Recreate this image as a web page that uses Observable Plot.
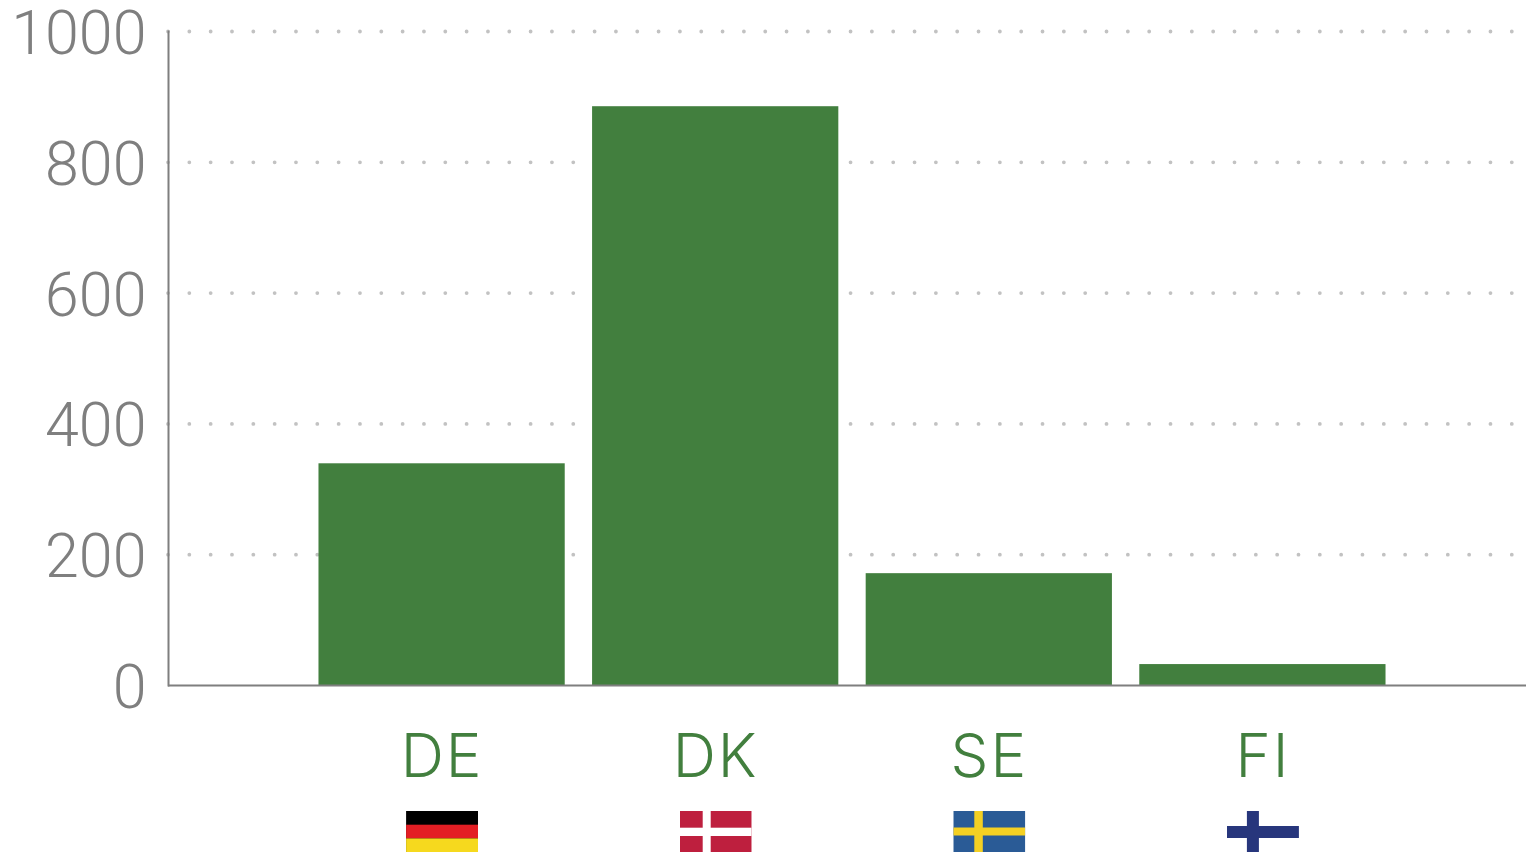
<!DOCTYPE html>
<html>
<head>
<meta charset="utf-8">
<style>html,body{margin:0;padding:0;background:#fff}svg{display:block}
g[aria-label="x-axis tick label"]{letter-spacing:2px}</style>
<script src="https://cdn.jsdelivr.net/npm/d3@7"></script>
<script src="https://cdn.jsdelivr.net/npm/@observablehq/plot@0.6"></script>
</head>
<body>
<div id="chart"></div>
<script>
const countries = ["DE", "DK", "SE", "FI"];
const values = [339, 885, 171, 32];
const yTicks = [0, 200, 400, 600, 800, 1000];
const gridTicks = [200, 400, 600, 800, 1000];

const flagSvgs = {
  DE: `<rect width="72" height="41" fill="#000"/><rect y="13.7" width="72" height="13.7" fill="#e31e24"/><rect y="27.4" width="72" height="13.6" fill="#f6d91e"/>`,
  DK: `<rect width="72" height="41" fill="#be1f3e"/><rect x="23" width="8" height="41" fill="#fff"/><rect y="16.7" width="72" height="8.3" fill="#fff"/>`,
  SE: `<rect width="72" height="41" fill="#2a5b96"/><rect x="21" width="8.5" height="41" fill="#f4d023"/><rect y="16.5" width="72" height="8" fill="#f4d023"/>`,
  FI: `<rect x="20" width="12" height="41" fill="#27367c"/><rect y="15" width="72" height="12" fill="#27367c"/>`
};
const flagUri = (c) => "data:image/svg+xml;utf8," + encodeURIComponent(
  `<svg xmlns="http://www.w3.org/2000/svg" width="72" height="41" viewBox="0 0 72 41">${flagSvgs[c]}</svg>`);

const rows = countries.map((c, i) => ({country: c, value: values[i], flag: flagUri(c)}));

const green = "#427f3e", gray = "#7f7f7f";

const plot = Plot.plot({
  width: 1526,
  height: 853,
  marginTop: 31,
  marginBottom: 168,
  marginLeft: 168,
  marginRight: -10,
  style: {fontFamily: "Inter, Roboto, sans-serif", fontWeight: 300, background: "#fff"},
  x: {domain: countries, paddingInner: 0.1, paddingOuter: 0.55, align: 0.5, round: false, label: null},
  y: {domain: [0, 1000], label: null},
  marks: [
    Plot.gridY(gridTicks, {stroke: "#c2c2c2", strokeOpacity: 1, strokeWidth: 3.8, strokeLinecap: "round", strokeDasharray: "0 21.33"}),
    Plot.barY(rows, {x: "country", y: "value", fill: green}),
    Plot.axisY({ticks: yTicks, tickFormat: (d) => String(d), tickSize: 0, tickPadding: 22, fontSize: 61, fontFamily: "Roboto, sans-serif", color: gray, label: null, dy: 3, fontWeight: 300}),
    Plot.axisX({tickSize: 0, tickPadding: 49, fontSize: 60, color: green, label: null, fontWeight: 300}),
    Plot.frame({anchor: "left", stroke: gray, strokeWidth: 2}),
    Plot.ruleY([0], {stroke: gray, strokeWidth: 2}),
    Plot.image(rows, {x: "country", y: () => 0, src: "flag", width: 72, height: 41, dy: 146, preserveAspectRatio: "none"})
  ]
});
document.getElementById("chart").append(plot);
</script>
</body>
</html>
